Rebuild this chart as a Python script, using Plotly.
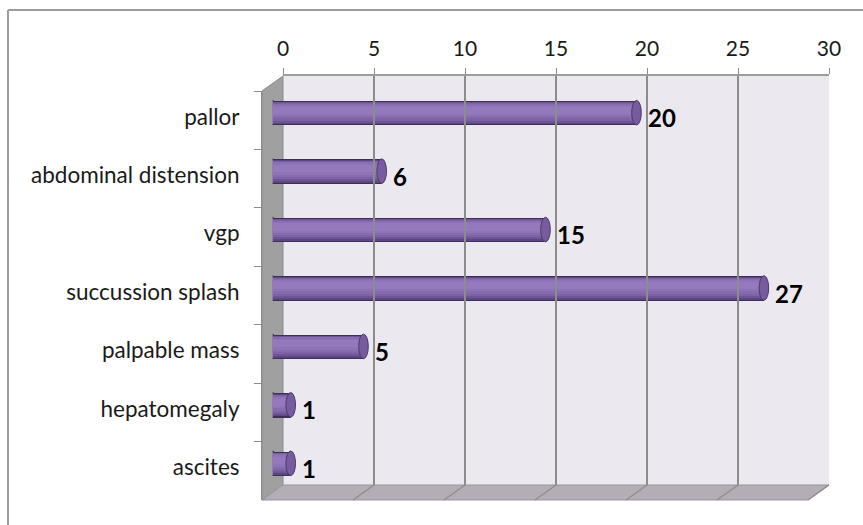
import plotly.graph_objects as go

# ---- data -------------------------------------------------------------
categories = ["pallor", "abdominal distension", "vgp", "succussion splash",
              "palpable mass", "hepatomegaly", "ascites"]
values = [20, 6, 15, 27, 5, 1, 1]
tick_values = [0, 5, 10, 15, 20, 25, 30]
x_max = 30

# ---- geometry (pixels of the 863x525 canvas) --------------------------
W, H = 863, 525
BACK = (283, 76, 829, 485)      # back wall: left, top, right, bottom
DEPTH = (-21, 15)               # offset from back wall to front edge
BAR_DEPTH = 0.5                 # bars sit half-way between back and front
BAR_W = 0.42                    # bar thickness in category units

FONT = "Lato, Arial, sans-serif"


def px(x):
    return x / W


def py(y):
    return 1 - y / H


bx0, by0, bx1, by1 = BACK
dx, dy = DEPTH
units_px = (bx1 - bx0) / x_max          # pixels per value unit

fig = go.Figure()

# cylinder shading: nested bars, (top fraction, bottom fraction, colour)
shading = [
    (0.00, 1.00, "#3d2f55"),
    (0.04, 0.95, "#5a4680"),
    (0.06, 0.88, "#6d5596"),
    (0.08, 0.80, "#7c62a6"),
    (0.11, 0.71, "#866baf"),
    (0.16, 0.62, "#8e73b7"),
    (0.23, 0.52, "#9479bd"),
]
for top, bottom, col in shading:
    fig.add_trace(go.Bar(
        x=values, y=categories, orientation="h",
        width=BAR_W * (bottom - top), offset=-BAR_W / 2 + BAR_W * top,
        marker=dict(color=col, line=dict(width=0)),
        xaxis="x", yaxis="y", hoverinfo="skip", showlegend=False,
    ))

shapes = []
# outer chart frame
shapes.append(dict(type="line", xref="paper", yref="paper",
                   x0=px(8), y0=py(10), x1=1.01, y1=py(10),
                   line=dict(color="#9c9c9c", width=2)))
shapes.append(dict(type="line", xref="paper", yref="paper",
                   x0=px(8), y0=py(10), x1=px(8), y1=-0.01,
                   line=dict(color="#9c9c9c", width=2)))
# back wall
shapes.append(dict(type="rect", xref="paper", yref="paper", layer="below",
                   x0=px(bx0), y0=py(by1), x1=px(bx1), y1=py(by0),
                   fillcolor="#ebe8f0", line=dict(width=0)))
# side wall
side = (f"M {px(bx0+dx)} {py(by0+dy)} L {px(bx0)} {py(by0)} "
        f"L {px(bx0)} {py(by1)} L {px(bx0+dx)} {py(by1+dy)} Z")
shapes.append(dict(type="path", xref="paper", yref="paper", layer="below",
                   path=side, fillcolor="#a0a0a0",
                   line=dict(color="#8a8a8a", width=1)))
# floor
floor = (f"M {px(bx0)} {py(by1)} L {px(bx1)} {py(by1)} "
         f"L {px(bx1+dx)} {py(by1+dy)} L {px(bx0+dx)} {py(by1+dy)} Z")
shapes.append(dict(type="path", xref="paper", yref="paper", layer="below",
                   path=floor, fillcolor="#b3aeb6",
                   line=dict(color="#9a959d", width=1)))
# floor grid diagonals
for t in tick_values[1:]:
    shapes.append(dict(type="line", xref="x2", yref="paper", layer="below",
                       x0=t, y0=py(by1), x1=t + dx / units_px, y1=py(by1 + dy),
                       line=dict(color="#8c8c8c", width=1.3)))

# rounded left ends (under the bars) and elliptical right caps
cap = 4.8 / units_px
for i, v in enumerate(values):
    shapes.append(dict(type="circle", xref="x", yref="y", layer="between",
                       x0=-cap, x1=cap, y0=i - BAR_W / 2, y1=i + BAR_W / 2,
                       fillcolor="#7c62a6", line=dict(color="#4b3b69", width=1)))
    shapes.append(dict(type="circle", xref="x", yref="y", layer="above",
                       x0=v - cap, x1=v + cap, y0=i - BAR_W / 2, y1=i + BAR_W / 2,
                       fillcolor="#765b9f", line=dict(color="#4b3b69", width=1)))

annotations = [
    dict(x=v, y=c, xref="x", yref="y", text=str(v), showarrow=False,
         xanchor="left", yanchor="middle", xshift=9, yshift=-5,
         font=dict(family=FONT, size=24, color="#000000", weight="bold"))
    for c, v in zip(categories, values)
]

fig.update_layout(
    width=W, height=H, autosize=False,
    margin=dict(l=0, r=0, t=0, b=0, pad=0),
    paper_bgcolor="white", plot_bgcolor="rgba(0,0,0,0)",
    barmode="overlay", bargap=0,
    font=dict(family=FONT, color="#1a1a1a"),
    shapes=shapes, annotations=annotations,
    # bar plane
    xaxis=dict(domain=[px(bx0 + dx * BAR_DEPTH), px(bx1 + dx * BAR_DEPTH)],
               range=[0, x_max], visible=False, anchor="y", automargin=False),
    yaxis=dict(domain=[py(by1 + dy * BAR_DEPTH), py(by0 + dy * BAR_DEPTH)],
               categoryorder="array", categoryarray=categories,
               autorange="reversed", anchor="x", automargin=False,
               showgrid=False, zeroline=False, showline=False, ticks="",
               ticklabelstandoff=32, ticklabelshift=-4,
               tickfont=dict(size=22.5, color="#1a1a1a")),
    # back wall with value scale on top
    xaxis2=dict(domain=[px(bx0), px(bx1)], range=[0, x_max], anchor="y2",
                side="top", tickvals=tick_values, automargin=False,
                showgrid=True, gridcolor="#8c8c8c", gridwidth=1.5,
                zeroline=False, showline=True, linecolor="#9c9c9c", linewidth=1.5,
                ticks="outside", ticklen=6, tickcolor="#8c8c8c", tickwidth=1.3,
                ticklabelstandoff=4,
                tickfont=dict(size=21, color="#1a1a1a")),
    yaxis2=dict(domain=[py(by1), py(by0)], range=[0, 1], anchor="x2",
                visible=False, automargin=False),
    # front edge with category boundary ticks
    xaxis3=dict(domain=[px(bx0 + dx), px(bx1 + dx)], range=[0, x_max],
                anchor="y3", visible=False, automargin=False),
    yaxis3=dict(domain=[py(by1 + dy), py(by0 + dy)], anchor="x3",
                type="category", categoryorder="array", categoryarray=categories,
                range=[len(categories) - 0.5, -0.5], tickson="boundaries",
                ticks="outside", ticklen=7, tickcolor="#8c8c8c", tickwidth=1.3,
                showticklabels=False, showgrid=False, zeroline=False,
                automargin=False,
                showline=True, linecolor="#8c8c8c", linewidth=1),
)

# empty traces so the back-wall and front-edge axes are rendered
fig.add_trace(go.Scatter(x=[None], y=[categories[0]], xaxis="x3", yaxis="y3",
                         showlegend=False, hoverinfo="skip"))
fig.add_trace(go.Scatter(x=[None], y=[None], xaxis="x2", yaxis="y2",
                         showlegend=False, hoverinfo="skip"))

fig.write_html("out.html")
